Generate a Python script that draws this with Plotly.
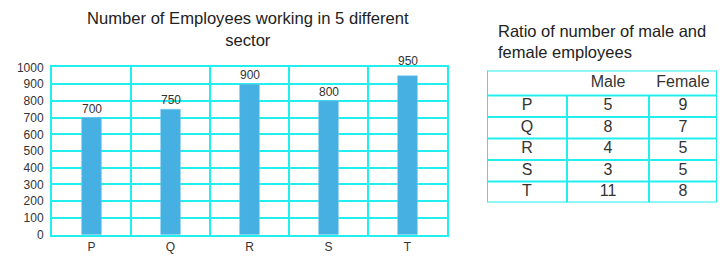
import plotly.graph_objects as go

# ---- data ----
sectors = ["P", "Q", "R", "S", "T"]
employees = [700, 750, 900, 800, 950]
table_header = ["", "Male", "Female"]
male = [5, 8, 4, 3, 11]
female = [9, 7, 5, 5, 8]

# label offsets (style): the top label is lifted clear of the frame
label_shift = [0, 0, 0, 0, 6]

W, H = 728, 267
CYAN = "#22EEEE"
FONT = "Arial, Liberation Sans, sans-serif"
TXT = "#333333"

def px_x(p):
    return p / W

def px_y(p):
    # empirical correction for the rendered vertical mapping
    q = (p - 7.7) / 252.6 * H
    return 1 - q / H

fig = go.Figure()

fig.add_trace(go.Bar(
    x=sectors, y=employees, width=0.25,
    marker=dict(color="#46B0E3", line=dict(color="#7CC8EE", width=0.5)),
    xaxis="x", yaxis="y", showlegend=False,
))

# ---- table drawn on its own axes ----
col_edges = [0, 80, 162, 230]
row_edges = [0, 25, 46.5, 68, 89.5, 111, 132]
col_centers = [(col_edges[i] + col_edges[i + 1]) / 2 for i in range(3)]
row_centers = [(row_edges[i] + row_edges[i + 1]) / 2 for i in range(6)]

tx, ty, tt = [], [], []
for j, h in enumerate(table_header):
    if h:
        tx.append(col_centers[j]); ty.append(row_centers[0]); tt.append(h)
for i, s in enumerate(sectors):
    for j, v in enumerate([s, male[i], female[i]]):
        tx.append(col_centers[j]); ty.append(row_centers[i + 1]); tt.append(str(v))

fig.add_trace(go.Scatter(
    x=tx, y=ty, text=tt, mode="text", textposition="middle center",
    textfont=dict(size=16, color=TXT, family=FONT),
    xaxis="x2", yaxis="y2", showlegend=False, hoverinfo="skip",
))

shapes = []
shapes.append(dict(type="rect", xref="x2", yref="y2", x0=col_edges[0], x1=col_edges[-1],
                   y0=row_edges[0], y1=row_edges[-1], line=dict(color=CYAN, width=2)))
for r in row_edges[1:-1]:
    shapes.append(dict(type="line", xref="x2", yref="y2", x0=col_edges[0], x1=col_edges[-1],
                       y0=r, y1=r, line=dict(color=CYAN, width=2)))
for c in col_edges[1:-1]:
    shapes.append(dict(type="line", xref="x2", yref="y2", x0=c, x1=c,
                       y0=row_edges[1], y1=row_edges[-1], line=dict(color=CYAN, width=2)))

annotations = [
    dict(text="Number of Employees working in 5 different<br>sector",
         x=px_x(248), y=px_y(8), xref="paper", yref="paper",
         xanchor="center", yanchor="top", showarrow=False,
         font=dict(size=16.6, color="#222222", family=FONT)),
    dict(text="Ratio of number of male and<br>female employees",
         x=px_x(496), y=px_y(21), xref="paper", yref="paper",
         xanchor="left", yanchor="top", showarrow=False, align="left",
         font=dict(size=16.5, color="#222222", family=FONT)),
]
for s, v, sh in zip(sectors, employees, label_shift):
    annotations.append(dict(
        text=str(v), x=s, y=v, xref="x", yref="y",
        xanchor="center", yanchor="bottom", yshift=sh, showarrow=False,
        font=dict(size=12, color=TXT, family=FONT),
    ))

fig.update_layout(
    width=W, height=H,
    margin=dict(l=0, r=0, t=0, b=0),
    paper_bgcolor="white", plot_bgcolor="white",
    font=dict(family=FONT, color=TXT),
    shapes=shapes,
    annotations=annotations,
    xaxis=dict(
        domain=[px_x(52), px_x(447)], type="category",
        tickson="boundaries", showgrid=True, gridcolor=CYAN, gridwidth=2,
        showline=True, linecolor=CYAN, linewidth=2, mirror=True,
        ticks="", tickfont=dict(size=12, color=TXT), fixedrange=True,
    ),
    yaxis=dict(
        domain=[px_y(235), px_y(68)], range=[0, 1000], dtick=100,
        showgrid=True, gridcolor=CYAN, gridwidth=2, zeroline=False,
        showline=True, linecolor=CYAN, linewidth=2, mirror=True,
        ticks="", ticklabelstandoff=4,
        tickfont=dict(size=12, color=TXT), fixedrange=True,
    ),
    xaxis2=dict(
        domain=[px_x(487), px_x(717)], range=[col_edges[0], col_edges[-1]],
        visible=False, anchor="y2", fixedrange=True,
    ),
    yaxis2=dict(
        domain=[px_y(203), px_y(71)], range=[row_edges[-1], row_edges[0]],
        visible=False, anchor="x2", fixedrange=True,
    ),
)

fig.write_html("out.html")
